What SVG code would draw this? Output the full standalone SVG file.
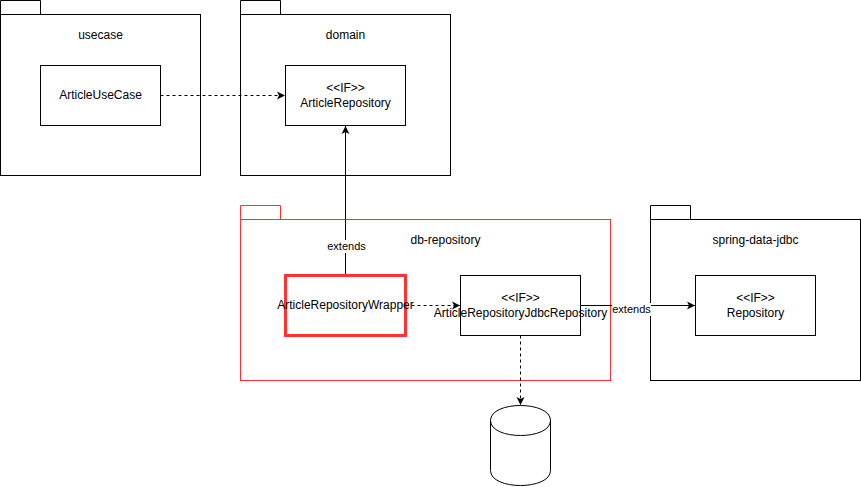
<svg xmlns="http://www.w3.org/2000/svg" width="861" height="487" viewBox="0 0 861 487">
<style>
text{font-family:"Liberation Sans",Arial,Helvetica,sans-serif;font-size:12px;fill:#000;text-anchor:middle}
.lb{font-size:11px}
.s{fill:#fff;stroke:#000;stroke-width:1}
.r{fill:#fff;stroke:#ff3333;stroke-width:1}
.c{fill:none;stroke:#000;stroke-width:1}
.d{stroke-dasharray:3 3}
</style>
<defs>
<marker id="a" markerUnits="userSpaceOnUse" markerWidth="10" markerHeight="10" refX="8" refY="4.5" orient="auto"><path d="M0 0.5L8 4.5L0 8.5L2 4.5Z" fill="#000"/></marker>
</defs>
<rect width="861" height="487" fill="#fff"/>
<g id="usecase"><path class="s" d="M0.5 14.5V0.5H40.5V14.5"/><rect class="s" x="0.5" y="14.5" width="200" height="161"/><text x="100.5" y="39">usecase</text></g>
<g id="domain"><path class="s" d="M240.5 14.5V0.5H280.5V14.5"/><rect class="s" x="240.5" y="14.5" width="210" height="161"/><text x="345.5" y="39">domain</text></g>
<g id="db-repository"><path class="r" d="M240.5 219.5V205.5H280.5V219.5"/><rect class="r" x="240.5" y="219.5" width="370" height="161"/><text x="445.5" y="244">db-repository</text></g>
<g id="spring-data-jdbc"><path class="s" d="M650.5 219.5V205.5H690.5V219.5"/><rect class="s" x="650.5" y="219.5" width="210" height="161"/><text x="755.5" y="244">spring-data-jdbc</text></g>
<g id="ArticleUseCase"><rect class="s" x="40.5" y="65.5" width="120" height="60"/></g>
<g id="ArticleRepository"><rect class="s" x="285.5" y="65.5" width="120" height="60"/></g>
<g id="ArticleRepositoryWrapper"><rect x="285.5" y="275.5" width="120" height="60" fill="#fff" stroke="#ff3333" stroke-width="3"/></g>
<g id="ArticleRepositoryJdbcRepository"><rect class="s" x="460.5" y="275.5" width="120" height="60"/></g>
<g id="Repository"><rect class="s" x="695.5" y="275.5" width="120" height="60"/></g>
<g id="database"><path class="s" d="M490.5 420.5C490.5 400.5 550.5 400.5 550.5 420.5V470.5C550.5 490.5 490.5 490.5 490.5 470.5Z"/><path class="c" d="M490.5 420.5C490.5 440.5 550.5 440.5 550.5 420.5"/></g>
<g id="connectors">
<path class="c d" d="M160.5 95.5H285" marker-end="url(#a)"/>
<path class="c" d="M345.5 274V126" marker-end="url(#a)"/>
<path class="c d" d="M405.5 305.5H460" marker-end="url(#a)"/>
<path class="c" d="M580.5 305.5H695" marker-end="url(#a)"/>
<path class="c d" d="M520.5 335.5V405" marker-end="url(#a)"/>
<rect x="327" y="240" width="39" height="13" fill="#fff"/>
<text class="lb" x="346.5" y="250">extends</text>
<rect x="612" y="303" width="39" height="13" fill="#fff"/>
<text class="lb" x="631.5" y="313">extends</text>
</g>
<g id="labels">
<text x="100.5" y="99">ArticleUseCase</text>
<text x="345.5" y="92">&lt;&lt;IF&gt;&gt;</text><text x="345.5" y="107">ArticleRepository</text>
<text x="345.5" y="309">ArticleRepositoryWrapper</text>
<text x="520.5" y="302">&lt;&lt;IF&gt;&gt;</text><text x="520.5" y="317">ArticleRepositoryJdbcRepository</text>
<text x="755.5" y="302">&lt;&lt;IF&gt;&gt;</text><text x="755.5" y="317">Repository</text>
</g>
</svg>
